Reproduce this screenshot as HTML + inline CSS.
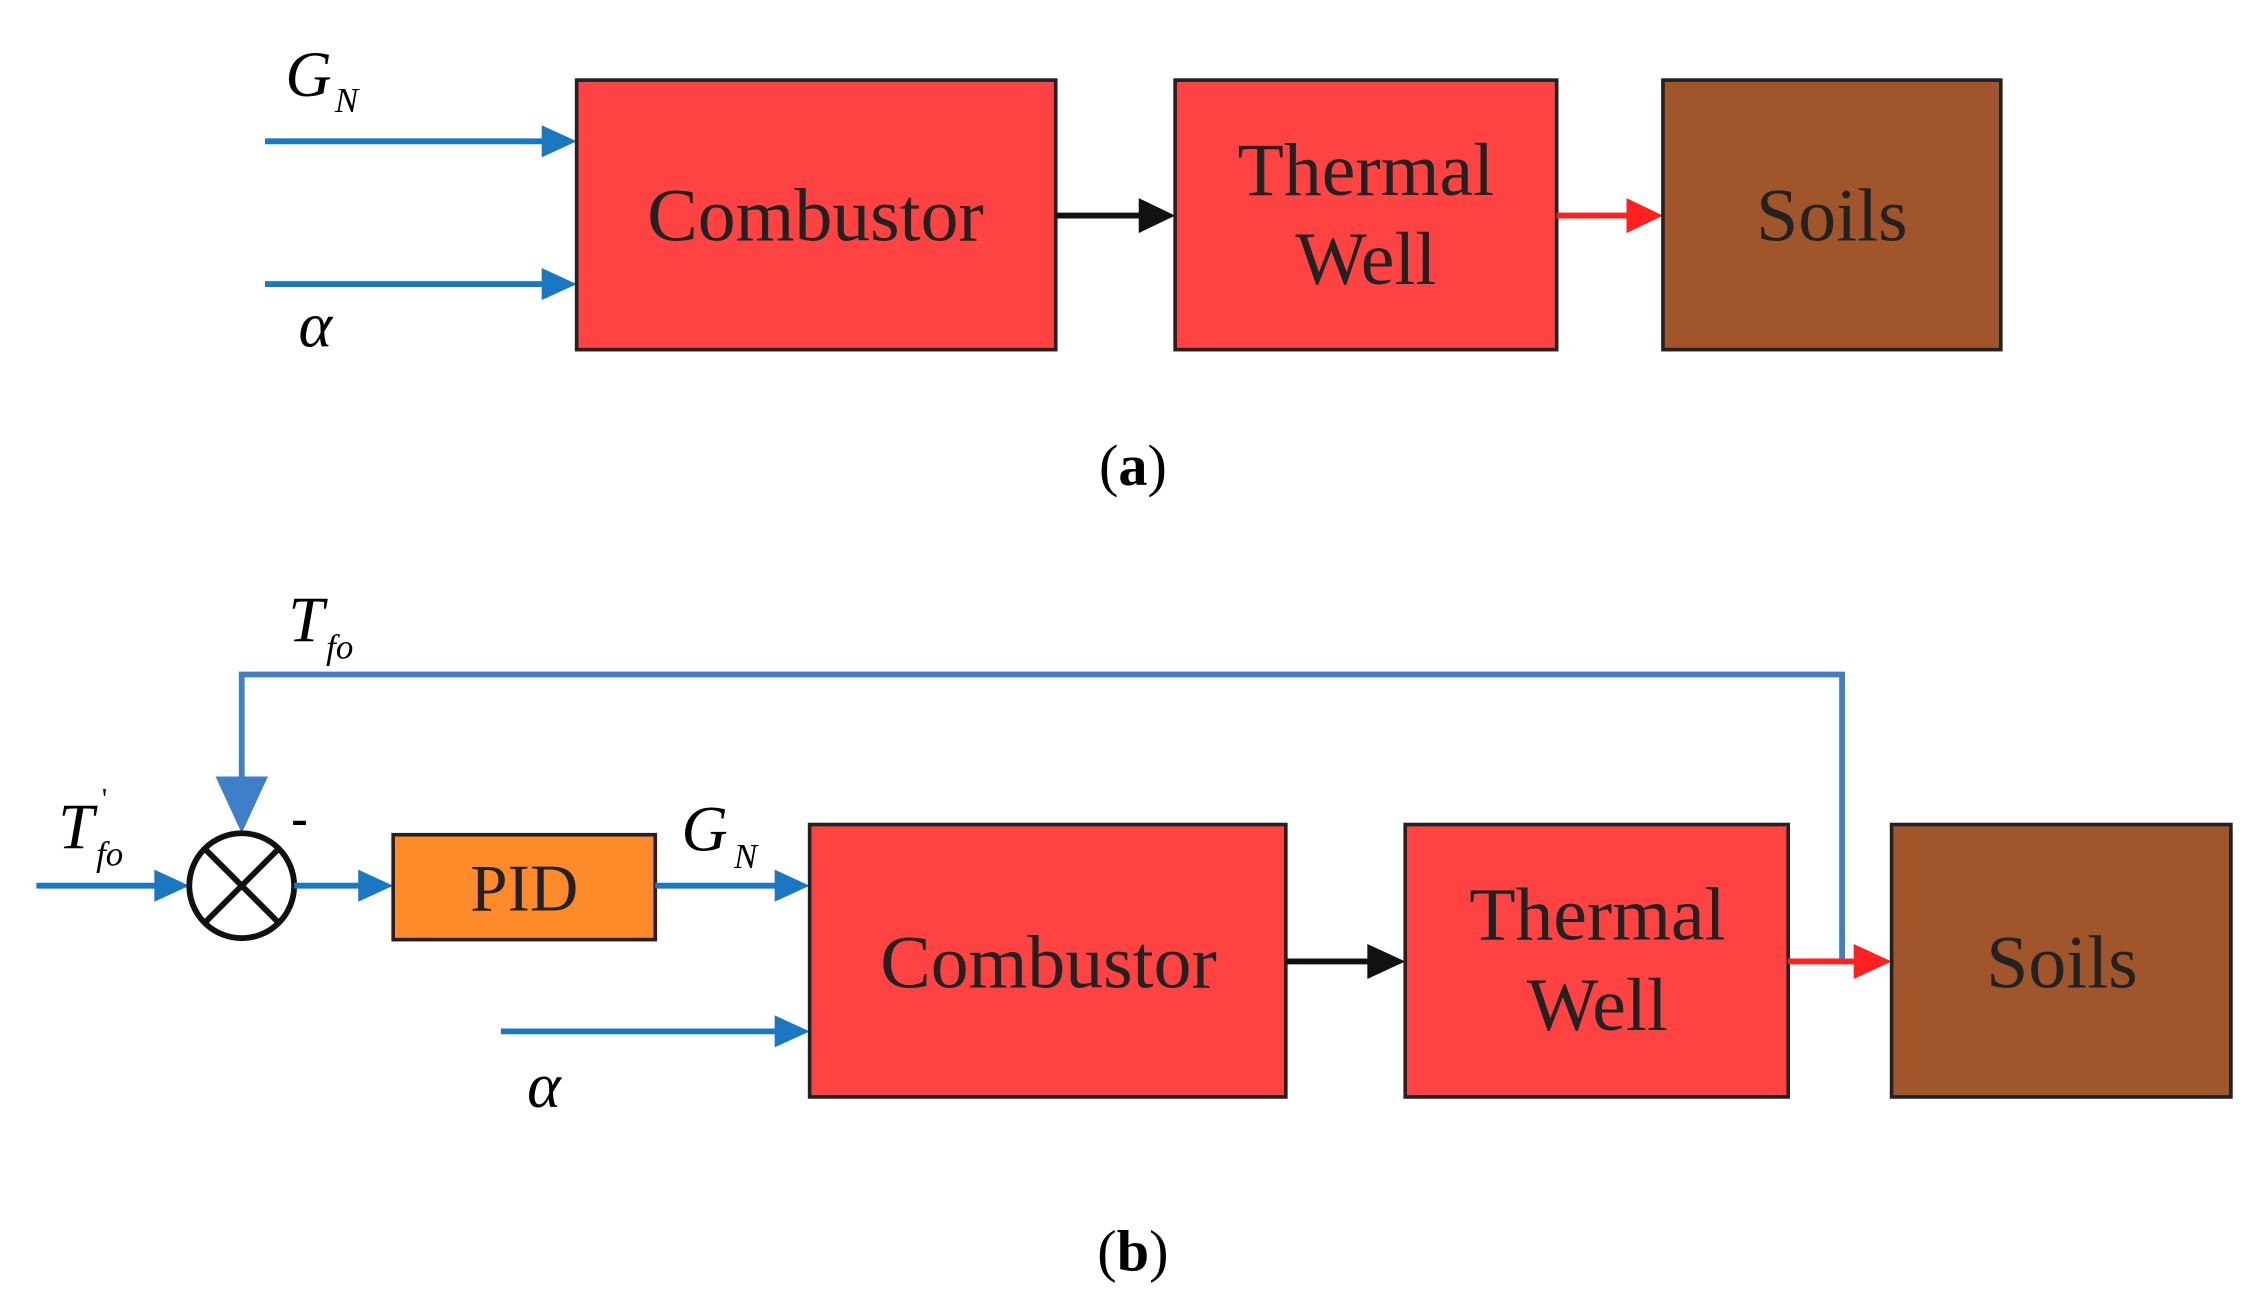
<!DOCTYPE html>
<html><head><style>html,body{margin:0;padding:0;background:#fff;}svg{display:block}</style></head>
<body>
<svg width="2260" height="1314" viewBox="0 0 1552 902" preserveAspectRatio="none" xmlns="http://www.w3.org/2000/svg" font-family="Liberation Serif, serif">
<!-- (a) -->
<line x1="182" y1="97" x2="375" y2="97" stroke="#1a78c2" stroke-width="4"/>
<polygon points="372,86 396,97 372,108" fill="#1a78c2"/>
<line x1="182" y1="195" x2="375" y2="195" stroke="#1a78c2" stroke-width="4"/>
<polygon points="372,184 396,195 372,206" fill="#1a78c2"/>
<text x="196" y="66" font-size="44" font-style="italic">G</text><text x="230" y="77" font-size="24" font-style="italic">N</text>
<text x="205" y="238" font-size="44" font-style="italic">α</text>
<rect x="396" y="55" width="329" height="185" fill="#ff4343" stroke="#222" stroke-width="2.5"/>
<text x="560" y="165" font-size="52" text-anchor="middle" fill="#222">Combustor</text>
<line x1="725" y1="148" x2="785" y2="148" stroke="#111" stroke-width="4"/>
<polygon points="782,136 807,148 782,160" fill="#111"/>
<rect x="807" y="55" width="262" height="185" fill="#ff4343" stroke="#222" stroke-width="2.5"/>
<text x="938" y="134" font-size="52" text-anchor="middle" fill="#222">Thermal</text>
<text x="938" y="195" font-size="52" text-anchor="middle" fill="#222">Well</text>
<line x1="1069" y1="148" x2="1120" y2="148" stroke="#ff2020" stroke-width="4"/>
<polygon points="1117,136 1142,148 1117,160" fill="#ff2020"/>
<rect x="1142" y="55" width="232" height="185" fill="#a0562a" stroke="#222" stroke-width="2.5"/>
<text x="1258" y="165" font-size="52" text-anchor="middle" fill="#222">Soils</text>
<text x="778" y="333" font-size="40" text-anchor="middle">(<tspan font-weight="bold">a</tspan>)</text>
<!-- (b) -->
<polyline points="1265,658 1265,463 166,463 166,540" fill="none" stroke="#3f7fc8" stroke-width="4"/>
<polygon points="148,533 184,533 166,572" fill="#3f7fc8"/>
<text x="198" y="440" font-size="44" font-style="italic">T</text><text x="224" y="452" font-size="24" font-style="italic">fo</text>
<line x1="25" y1="608" x2="110" y2="608" stroke="#1a78c2" stroke-width="4"/>
<polygon points="106,597 130,608 106,619" fill="#1a78c2"/>
<text x="40" y="582" font-size="44" font-style="italic">T</text><text x="70" y="555" font-size="20">'</text><text x="66" y="594" font-size="24" font-style="italic">fo</text>
<circle cx="166" cy="608" r="36" fill="#fff" stroke="#111" stroke-width="4"/>
<line x1="141" y1="583" x2="191" y2="633" stroke="#111" stroke-width="4"/>
<line x1="191" y1="583" x2="141" y2="633" stroke="#111" stroke-width="4"/>
<text x="200" y="573" font-size="34" font-weight="bold">-</text>
<line x1="202" y1="608" x2="250" y2="608" stroke="#1a78c2" stroke-width="4"/>
<polygon points="246,597 270,608 246,619" fill="#1a78c2"/>
<rect x="270" y="573" width="180" height="72" fill="#ff8a2a" stroke="#222" stroke-width="2.5"/>
<text x="360" y="625" font-size="46" text-anchor="middle" fill="#222">PID</text>
<line x1="450" y1="608" x2="535" y2="608" stroke="#1a78c2" stroke-width="4"/>
<polygon points="532,597 556,608 532,619" fill="#1a78c2"/>
<text x="468" y="584" font-size="44" font-style="italic">G</text><text x="504" y="596" font-size="24" font-style="italic">N</text>
<line x1="344" y1="708" x2="535" y2="708" stroke="#1a78c2" stroke-width="4"/>
<polygon points="532,697 556,708 532,719" fill="#1a78c2"/>
<text x="362" y="760" font-size="44" font-style="italic">α</text>
<rect x="556" y="566" width="327" height="187" fill="#ff4343" stroke="#222" stroke-width="2.5"/>
<text x="720" y="678" font-size="52" text-anchor="middle" fill="#222">Combustor</text>
<line x1="883" y1="660" x2="942" y2="660" stroke="#111" stroke-width="4"/>
<polygon points="939,648 965,660 939,672" fill="#111"/>
<rect x="965" y="566" width="263" height="187" fill="#ff4343" stroke="#222" stroke-width="2.5"/>
<text x="1097" y="645" font-size="52" text-anchor="middle" fill="#222">Thermal</text>
<text x="1097" y="707" font-size="52" text-anchor="middle" fill="#222">Well</text>
<line x1="1228" y1="660" x2="1276" y2="660" stroke="#ff2020" stroke-width="4"/>
<polygon points="1273,648 1299,660 1273,672" fill="#ff2020"/>
<rect x="1299" y="566" width="233" height="187" fill="#a0562a" stroke="#222" stroke-width="2.5"/>
<text x="1416" y="678" font-size="52" text-anchor="middle" fill="#222">Soils</text>
<text x="778" y="872" font-size="40" text-anchor="middle">(<tspan font-weight="bold">b</tspan>)</text>
</svg>
</body></html>
